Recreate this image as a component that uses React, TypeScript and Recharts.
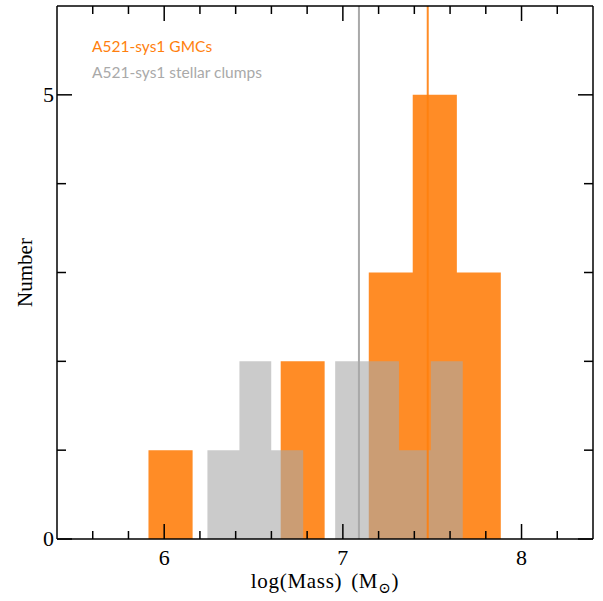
import React from 'react';
import { ComposedChart, XAxis, YAxis, Area, ReferenceLine, Label } from 'recharts';

// histogram bin edges and counts
const gmcEdges = [5.912, 6.159, 6.405, 6.652, 6.898, 7.145, 7.391, 7.638, 7.884];
const gmcCounts = [1, 0, 0, 2, 0, 3, 5, 3];
const clumpEdges = [6.242, 6.421, 6.599, 6.778, 6.957, 7.135, 7.314, 7.492, 7.671];
const clumpCounts = [1, 2, 1, 0, 2, 2, 1, 2];

// median lines
const gmcMedian = 7.475;
const clumpMedian = 7.09;

const xTicks = [5.6, 5.8, 6, 6.2, 6.4, 6.6, 6.8, 7, 7.2, 7.4, 7.6, 7.8, 8, 8.2];
const yTicks = [0, 1, 2, 3, 4, 5];
const yLabelled = [0, 5];

const ORANGE = '#ff7f0e';
const GRAY = '#a9a9a9';
const SERIF = '"Liberation Serif", "DejaVu Serif", serif';
const SANS = 'Lato, "Open Sans", sans-serif';

// value of a step histogram at x (null outside its range)
const stepValue = (edges: number[], counts: number[], x: number) => {
  if (x < edges[0] || x > edges[edges.length - 1]) return null;
  for (let i = 0; i < counts.length; i++) {
    if (x >= edges[i] && x < edges[i + 1]) return counts[i];
  }
  return 0;
};

const allX = Array.from(new Set([...gmcEdges, ...clumpEdges])).sort((a, b) => a - b);
const chartData = allX.map((x) => ({
  x,
  gmc: stepValue(gmcEdges, gmcCounts, x),
  clump: stepValue(clumpEdges, clumpCounts, x),
}));

const isMajorX = (v: number) => Math.abs(v - Math.round(v)) < 1e-6;

const BottomTick = (props: any) => {
  const { x, y, payload } = props;
  const major = isMajorX(payload.value);
  return (
    <g>
      <line x1={x} x2={x} y1={y} y2={y - (major ? 15 : 8)} stroke="#000" strokeWidth={1.5} />
      {major && (
        <text x={x} y={y + 26} textAnchor="middle" fontFamily={SERIF} fontSize={22} fill="#000">
          {Math.round(payload.value)}
        </text>
      )}
    </g>
  );
};

const TopTick = (props: any) => {
  const { x, y, payload } = props;
  const major = isMajorX(payload.value);
  return <line x1={x} x2={x} y1={y} y2={y + (major ? 15 : 8)} stroke="#000" strokeWidth={1.5} />;
};

const LeftTick = (props: any) => {
  const { x, y, payload } = props;
  const major = yLabelled.includes(payload.value);
  return (
    <g>
      <line x1={x} x2={x + (major ? 15 : 9)} y1={y} y2={y} stroke="#000" strokeWidth={1.5} />
      {major && (
        <text x={x - 3} y={y + 7} textAnchor="end" fontFamily={SERIF} fontSize={22} fill="#000">
          {payload.value}
        </text>
      )}
    </g>
  );
};

const RightTick = (props: any) => {
  const { x, y, payload } = props;
  const major = yLabelled.includes(payload.value);
  return <line x1={x} x2={x - (major ? 15 : 9)} y1={y} y2={y} stroke="#000" strokeWidth={1.5} />;
};

const XLabel = (props: any) => {
  const { x, y, width } = props.viewBox;
  return (
    <text x={x + width / 2} y={y + 49} textAnchor="middle" fontFamily={SERIF} fontSize={21}
      letterSpacing={0.7} wordSpacing={3} fill="#000">
      <tspan>log(Mass) (M</tspan>
      <tspan dy={5} fontSize={15}>⊙</tspan>
      <tspan dy={-5}>)</tspan>
    </text>
  );
};

const YLabel = (props: any) => {
  const { y, height } = props.viewBox;
  const cy = y + height / 2;
  return (
    <text x={25} y={cy} transform={`rotate(-90, 25, ${cy})`} textAnchor="middle" dominantBaseline="central"
      fontFamily={SERIF} fontSize={21} fill="#000">
      Number
    </text>
  );
};

export default function App() {
  const axisLine = { stroke: '#000', strokeWidth: 1.5 };
  return (
    <div style={{ position: 'absolute', left: 0, top: 0, width: 603, height: 601 }}>
      <ComposedChart width={603} height={601} data={chartData} margin={{ top: 5, right: 9, bottom: 61, left: 56 }}>
        <XAxis xAxisId="b" dataKey="x" type="number" domain={[5.4, 8.4]} ticks={xTicks} interval={0}
          allowDataOverflow height={1} tickSize={0} tickMargin={0} tickLine={false}
          axisLine={axisLine} tick={<BottomTick />}>
          <Label content={<XLabel />} />
        </XAxis>
        <XAxis xAxisId="t" dataKey="x" orientation="top" type="number" domain={[5.4, 8.4]} ticks={xTicks} interval={0}
          allowDataOverflow height={1} tickSize={0} tickMargin={0} tickLine={false}
          axisLine={axisLine} tick={<TopTick />} />
        <YAxis yAxisId="l" type="number" domain={[0, 6]} ticks={yTicks} interval={0}
          allowDataOverflow width={1} tickSize={0} tickMargin={0} tickLine={false}
          axisLine={axisLine} tick={<LeftTick />}>
          <Label content={<YLabel />} />
        </YAxis>
        <YAxis yAxisId="r" orientation="right" type="number" domain={[0, 6]} ticks={yTicks} interval={0}
          allowDataOverflow width={1} tickSize={0} tickMargin={0} tickLine={false}
          axisLine={axisLine} tick={<RightTick />} />

        <Area xAxisId="b" yAxisId="l" dataKey="gmc" type="stepAfter" fill={ORANGE} fillOpacity={0.9}
          stroke="none" isAnimationActive={false} baseValue={0} />
        <ReferenceLine xAxisId="b" yAxisId="l" x={gmcMedian} stroke={ORANGE} strokeWidth={2} strokeOpacity={0.9} />
        <Area xAxisId="b" yAxisId="l" dataKey="clump" type="stepAfter" fill={GRAY} fillOpacity={0.6}
          stroke="none" isAnimationActive={false} baseValue={0} />
        <ReferenceLine xAxisId="b" yAxisId="l" x={clumpMedian} stroke={GRAY} strokeWidth={2} />
      </ComposedChart>
      <div style={{ position: 'absolute', left: 92, top: 33, fontFamily: SANS, fontSize: 15.5, lineHeight: '26px' }}>
        <div style={{ color: ORANGE }}>A521-sys1 GMCs</div>
        <div style={{ color: GRAY }}>A521-sys1 stellar clumps</div>
      </div>
    </div>
  );
}
